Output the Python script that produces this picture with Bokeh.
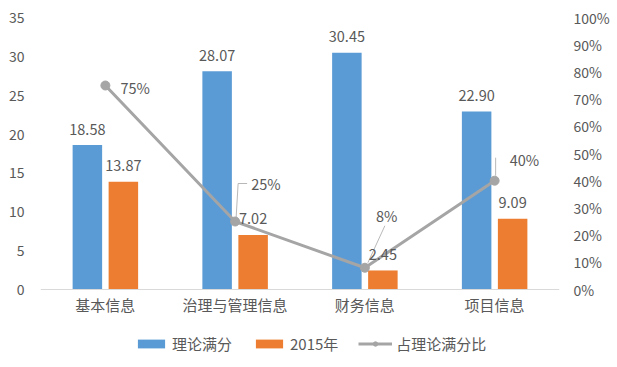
from bokeh.plotting import figure
from bokeh.models import (ColumnDataSource, Range1d, LinearAxis, LabelSet,
                          Legend, LegendItem, NumeralTickFormatter, FixedTicker)
from bokeh.transform import dodge
from bokeh.core.properties import value
from bokeh.embed import file_html
from bokeh.resources import INLINE

# ---------------- data ----------------
categories = ["基本信息", "治理与管理信息", "财务信息", "项目信息"]
theory_full = [18.58, 28.07, 30.45, 22.90]
score_2015 = [13.87, 7.02, 2.45, 9.09]
ratio = [0.75, 0.25, 0.08, 0.40]
series_names = ["理论满分", "2015年", "占理论满分比"]
left_ticks = [0, 5, 10, 15, 20, 25, 30, 35]
right_ticks = [0.0, 0.1, 0.2, 0.3, 0.4, 0.5, 0.6, 0.7, 0.8, 0.9, 1.0]
Y_MAX = 35
PCT_MAX = 1.0

# ---------------- styling / layout ----------------
FONT = "Noto Sans CJK SC"
TXT = "#595959"
BLUE = "#5B9BD5"
ORANGE = "#ED7D31"
GRAY = "#A5A5A5"
FIG_W, FIG_H = 617, 362
BORDER_L, BORDER_R, BORDER_T = 40, 58, 17
PLOT_H = 272.0           # pixels from value 0 to Y_MAX
FRAME_W = FIG_W - BORDER_L - BORDER_R
BELOW_PX = FIG_H - BORDER_T - PLOT_H   # space inside the frame below the zero line
PX_PER_UNIT = PLOT_H / Y_MAX
CAT_PX = FRAME_W / len(categories)
BAR_OFF = 18.0 / CAT_PX
BAR_W = 29.5 / CAT_PX
# ratio label offsets (pixels, right / up from the point)
ratio_dx = [15, 16, 11, 15]
ratio_dy = [-2, 38, 52, 21]
# leader line polylines per point (pixels right/up from point); empty = none
leaders = [
    [],
    [(1, 4), (3, 38), (12, 38)],
    [(3, 5), (20, 42)],
    [(1, 5), (1, 23)],
]

xpos = list(range(len(categories)))
src = ColumnDataSource(dict(
    x=xpos,
    theory=theory_full,
    s2015=score_2015,
    ratio=ratio,
    theory_lbl=[f"{v:.2f}" for v in theory_full],
    s2015_lbl=[f"{v:.2f}" for v in score_2015],
    ratio_lbl=[f"{v:.0%}" for v in ratio],
    dx=ratio_dx,
    dy=ratio_dy,
))

y_min = -BELOW_PX / PX_PER_UNIT
p = figure(width=FIG_W, height=FIG_H, x_range=Range1d(-0.5, len(categories) - 0.5),
           y_range=Range1d(y_min, Y_MAX), output_backend="svg", toolbar_location=None,
           min_border_left=BORDER_L, min_border_right=BORDER_R, min_border_top=BORDER_T,
           min_border_bottom=0)
p.extra_y_ranges = {"pct": Range1d(y_min / Y_MAX * PCT_MAX, PCT_MAX)}
p.outline_line_color = None
p.grid.visible = False
p.background_fill_color = "white"

b1 = p.vbar(x=dodge("x", -BAR_OFF), top="theory", width=BAR_W,
            source=src, color=BLUE, line_color=None)
b2 = p.vbar(x=dodge("x", BAR_OFF), top="s2015", width=BAR_W,
            source=src, color=ORANGE, line_color=None)

# leader lines
xs, ys = [], []
for i, pts in enumerate(leaders):
    if not pts:
        continue
    xs.append([xpos[i] + dx / CAT_PX for dx, _ in pts])
    ys.append([ratio[i] + dy / PLOT_H * PCT_MAX for _, dy in pts])
p.multi_line(xs=xs, ys=ys, y_range_name="pct", line_color="#A6A6A6", line_width=0.8)

ln = p.line(x="x", y="ratio", source=src, y_range_name="pct", line_color=GRAY, line_width=3)
sc = p.scatter(x="x", y="ratio", source=src, y_range_name="pct", size=9,
               fill_color=GRAY, line_color=GRAY)

common = dict(text_font=value(FONT), text_font_size="14.5px", text_color=TXT,
              text_baseline="middle")
p.add_layout(LabelSet(x=dodge("x", -BAR_OFF), y="theory", text="theory_lbl",
                      y_offset=16, text_align="center", source=src, **common))
p.add_layout(LabelSet(x=dodge("x", BAR_OFF), y="s2015", text="s2015_lbl",
                      y_offset=16, text_align="center", source=src, **common))
p.add_layout(LabelSet(x="x", y="ratio", text="ratio_lbl", y_range_name="pct",
                      x_offset="dx", y_offset="dy", text_align="left", source=src, **common))

# axes
p.yaxis.ticker = FixedTicker(ticks=left_ticks)
p.yaxis.axis_line_color = None
p.yaxis.major_tick_line_color = None
p.yaxis.minor_tick_line_color = None
p.yaxis.major_label_standoff = 10
p.yaxis.major_label_text_font = FONT
p.yaxis.major_label_text_font_size = "14px"
p.yaxis.major_label_text_color = TXT

ax_r = LinearAxis(y_range_name="pct", ticker=FixedTicker(ticks=right_ticks),
                  formatter=NumeralTickFormatter(format="0%"))
ax_r.axis_line_color = None
ax_r.major_tick_line_color = None
ax_r.minor_tick_line_color = None
ax_r.major_label_standoff = 8
ax_r.major_label_text_font = FONT
ax_r.major_label_text_font_size = "14px"
ax_r.major_label_text_color = TXT
p.add_layout(ax_r, "right")

p.xaxis.fixed_location = 0
p.xaxis.ticker = FixedTicker(ticks=xpos)
p.xaxis.major_label_overrides = {i: c for i, c in zip(xpos, categories)}
p.xaxis.axis_line_color = "#D9D9D9"
p.xaxis.axis_line_width = 1
p.xaxis.major_tick_line_color = None
p.xaxis.minor_tick_line_color = None
p.xaxis.major_label_standoff = -2
p.xaxis.major_label_text_font = FONT
p.xaxis.major_label_text_font_size = "15px"
p.xaxis.major_label_text_color = TXT

legend = Legend(items=[
    LegendItem(label=series_names[0], renderers=[b1]),
    LegendItem(label=series_names[1], renderers=[b2]),
    LegendItem(label=series_names[2], renderers=[ln, sc]),
], location=(94, 8), orientation="horizontal")
legend.border_line_color = None
legend.background_fill_alpha = 0
legend.padding = 0
legend.margin = 0
legend.spacing = 20
legend.label_standoff = 4
legend.glyph_width = 34
legend.glyph_height = 11
legend.label_text_font = FONT
legend.label_text_font_size = "15px"
legend.label_text_color = TXT
legend.label_text_baseline = "middle"
p.add_layout(legend)

open("out.html", "w").write(file_html(p, INLINE))
